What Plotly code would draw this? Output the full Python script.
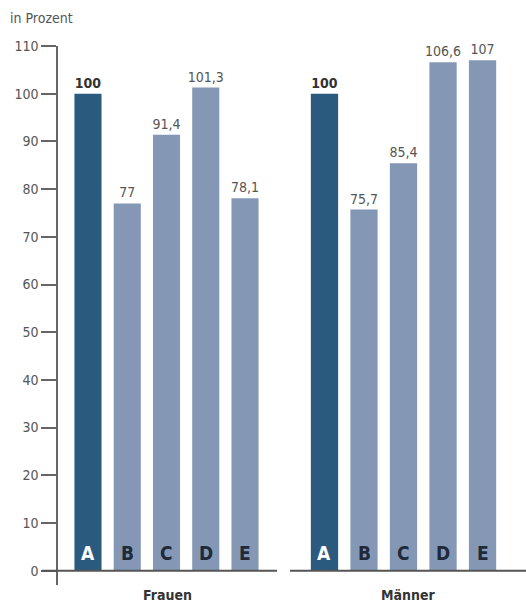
import plotly.graph_objects as go

categories = ["A", "B", "C", "D", "E"]
frauen = [100, 77, 91.4, 101.3, 78.1]
maenner = [100, 75.7, 85.4, 106.6, 107]
groups = ["Frauen", "Männer"]
y_ticks = [0, 10, 20, 30, 40, 50, 60, 70, 80, 90, 100, 110]

DARK = "#2b5a7f"
LIGHT = "#8498b6"
TXT = "#555555"
FONT = "DejaVu Sans Condensed"

def labels(vals):
    out = []
    for i, v in enumerate(vals):
        s = f"{v:g}".replace(".", ",")
        out.append(f"<b>{s}</b>" if i == 0 else s)
    return out

colors = [DARK] + [LIGHT] * 4

fig = go.Figure()
for vals, xa, ya in [(frauen, "x", "y"), (maenner, "x2", "y2")]:
    fig.add_trace(go.Bar(
        x=categories, y=vals, xaxis=xa, yaxis=ya,
        marker=dict(color=colors, line=dict(width=0)),
        text=labels(vals), textposition="outside", cliponaxis=False,
        constraintext="none",
        textfont=dict(family=FONT, size=14, color=["#333333"] + [TXT] * 4),
        showlegend=False,
    ))

W, H = 526, 604
fig.update_layout(
    width=W, height=H,
    margin=dict(l=0, r=0, t=46, b=19),
    paper_bgcolor="white", plot_bgcolor="white",
    bargap=0.31,
    font=dict(family=FONT, color=TXT, size=14),
    xaxis=dict(domain=[58 / W, 277 / W], range=[-0.764, 4.815], showticklabels=False,
               showline=False, showgrid=False, zeroline=False, ticks=""),
    xaxis2=dict(domain=[290 / W, 1], range=[-0.873, 5.1], showticklabels=False,
                showline=False, showgrid=False, zeroline=False, ticks="", anchor="y2"),
    yaxis=dict(range=[-3, 110], tickvals=y_ticks, ticks="outside", ticklen=15,
               tickwidth=2, tickcolor="#666666", showline=True, linecolor="#666666",
               linewidth=1.5, showgrid=False, zeroline=False,
               tickfont=dict(family=FONT, size=14, color=TXT), anchor="x"),
    yaxis2=dict(range=[-3, 110], showticklabels=False, showline=False, showgrid=False,
                zeroline=False, ticks="", anchor="x2", matches="y"),
)

# baselines at 0
fig.add_shape(type="line", xref="x domain", yref="y", x0=-16 / 219, x1=1, y0=0, y1=0,
              line=dict(color="#555555", width=2))
fig.add_shape(type="line", xref="x2 domain", yref="y2", x0=0, x1=1, y0=0, y1=0,
              line=dict(color="#555555", width=2))

# letters inside bars
for xa, ya in [("x", "y"), ("x2", "y2")]:
    for i, c in enumerate(categories):
        fig.add_annotation(x=c, y=0, xref=xa, yref=ya, text=f"<b>{c}</b>", showarrow=False,
                           yanchor="bottom", yshift=5,
                           font=dict(family=FONT, size=19, color="white" if i == 0 else "#1f2a38"))

# group labels
for g, xa in zip(groups, ["x", "x2"]):
    fig.add_annotation(x=0.5, xref=f"{xa} domain", y=0, yref="paper", yshift=-10,
                       text=f"<b>{g}</b>", showarrow=False, yanchor="middle",
                       font=dict(family=FONT, size=14, color="#333333"))

fig.add_annotation(x=8 / W, xref="paper", xanchor="left", y=1, yref="paper", yshift=28,
                   text="in Prozent", showarrow=False, yanchor="middle",
                   font=dict(family=FONT, size=14, color=TXT))

fig.write_html("out.html", config={"displayModeBar": False},
               post_script="document.body.style.margin='0';")
